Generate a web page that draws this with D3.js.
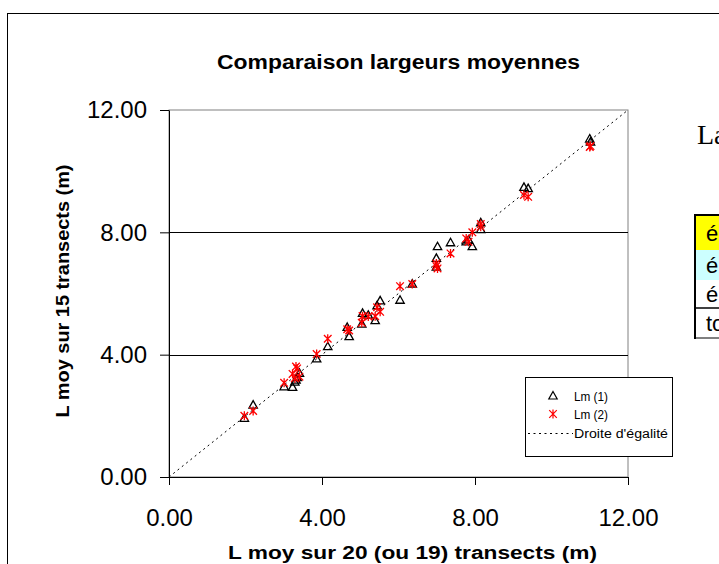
<!DOCTYPE html>
<html><head><meta charset="utf-8">
<script src="https://cdn.jsdelivr.net/npm/d3@7"></script>
<style>body{margin:0;background:#fff;} svg{display:block;} text{font-family:"Liberation Sans",Arial,sans-serif;}</style>
</head><body>
<svg id="c" width="719" height="564"></svg>
<script>
const xValues = [1.97,2.20,3.01,3.23,3.32,3.41,3.35,3.29,3.86,4.15,4.66,4.71,5.04,5.06,5.21,5.39,5.44,5.52,6.04,6.36,6.99,7.02,6.99,7.36,7.77,7.83,7.93,8.15,8.15,9.28,9.39,11.00,11.02];
const lm1 = [1.92,2.35,2.95,2.93,3.17,3.39,3.25,3.10,3.86,4.26,4.89,4.59,5.00,5.35,5.29,5.11,5.60,5.76,5.78,6.31,7.15,7.53,6.86,7.66,7.69,7.75,7.53,8.31,8.09,9.47,9.43,11.05,10.95];
const lm2 = [2.00,2.16,3.08,3.37,3.61,3.28,3.55,3.23,4.02,4.52,4.83,4.79,5.04,5.26,5.25,5.26,5.55,5.40,6.24,6.31,6.98,6.82,6.90,7.31,7.80,7.69,8.00,8.27,8.18,9.22,9.16,10.79,10.82];
const axisTicks = [0,4,8,12];
const seriesNames = ["Lm (1)","Lm (2)","Droite d'égalité"];
const titleText = "Comparaison largeurs moyennes";
const xTitle = "L moy sur 20 (ou 19) transects (m)";
const yTitle = "L moy sur 15 transects (m)";
const tableRows = [{t:"é",fill:"#ffff00"},{t:"é",fill:"#ccffff"},{t:"é",fill:"#ffffff"},{t:"to",fill:"#ffffff"}];

const svg = d3.select("#c");
const x = d3.scaleLinear().domain([0,12]).range([169,628]);
const y = d3.scaleLinear().domain([0,12]).range([477,110]);
const fmt = d3.format(".2f");

// right-side sheet content
svg.append("text").attr("x",697).attr("y",144).attr("font-family","Liberation Serif, Times New Roman, serif")
  .style("font-family","'Liberation Serif','Times New Roman',serif").attr("font-size",28).text("La");
const rowTops=[215,250,280,308], rowH=[35,30,28,30];
tableRows.forEach((r,i)=>{
  svg.append("rect").attr("x",695).attr("y",rowTops[i]).attr("width",30).attr("height",rowH[i]).attr("fill",r.fill);
  svg.append("text").attr("x",706).attr("y",rowTops[i]+rowH[i]/2+8).attr("font-size",22).text(r.t);
});
svg.append("line").attr("x1",695).attr("x2",719).attr("y1",215).attr("y2",215).attr("stroke","#000").attr("stroke-width",2);
svg.append("line").attr("x1",695).attr("x2",695).attr("y1",214).attr("y2",339).attr("stroke","#000").attr("stroke-width",2);
svg.append("line").attr("x1",695).attr("x2",719).attr("y1",308).attr("y2",308).attr("stroke","#000").attr("stroke-width",1.5);
svg.append("line").attr("x1",695).attr("x2",719).attr("y1",338).attr("y2",338).attr("stroke","#000").attr("stroke-width",1);

// chart outer border
svg.append("rect").attr("x",7.5).attr("y",13.5).attr("width",730).attr("height",570).attr("fill","none").attr("stroke","#000");

// title
svg.append("text").attr("x",398.5).attr("y",69).attr("text-anchor","middle").attr("font-weight","bold").attr("font-size",20)
  .attr("textLength",363).attr("lengthAdjust","spacingAndGlyphs").text(titleText);

// plot frame
svg.append("rect").attr("x",169).attr("y",110).attr("width",459).attr("height",367).attr("fill","none").attr("stroke","#808080");
// gridlines
svg.append("g").selectAll("line").data(axisTicks.filter(d=>d>0&&d<12)).join("line")
  .attr("x1",x(0)).attr("x2",x(12)).attr("y1",d=>Math.round(y(d))+0.5).attr("y2",d=>Math.round(y(d))+0.5).attr("stroke","#000");

// axes
const xa = svg.append("g").attr("transform",`translate(0,${y(0)})`)
  .call(d3.axisBottom(x).tickValues(axisTicks).tickFormat(fmt).tickSize(8).tickSizeOuter(0).tickPadding(24));
xa.select(".domain").attr("stroke","#000");
xa.selectAll("text").attr("font-size",24).attr("fill","#000").style("font-family","'Liberation Sans',Arial,sans-serif");
const ya = svg.append("g").attr("transform",`translate(${x(0)},0)`)
  .call(d3.axisLeft(y).tickValues(axisTicks).tickFormat(fmt).tickSize(9).tickSizeOuter(0).tickPadding(13));
ya.select(".domain").attr("stroke","#000");
ya.selectAll("text").attr("font-size",24).attr("fill","#000").style("font-family","'Liberation Sans',Arial,sans-serif");

// axis titles
svg.append("text").attr("x",412.5).attr("y",559).attr("text-anchor","middle").attr("font-weight","bold").attr("font-size",18)
  .attr("textLength",369).attr("lengthAdjust","spacingAndGlyphs").text(xTitle);
svg.append("text").attr("transform","translate(69,291) rotate(-90)").attr("text-anchor","middle").attr("font-weight","bold").attr("font-size",18)
  .attr("textLength",253).attr("lengthAdjust","spacingAndGlyphs").text(yTitle);

// equality line
svg.append("line").attr("x1",x(0)).attr("y1",y(0)).attr("x2",x(12)).attr("y2",y(12))
  .attr("stroke","#000").attr("stroke-width",1).attr("stroke-dasharray","2,3.5");

const tri = "M0,-4.5L4.2,3L-4.2,3Z";
const star = "M-3.8,-3.8L3.8,3.8M-3.8,3.8L3.8,-3.8M0,-4.5L0,4.5";
svg.append("g").selectAll("path").data(xValues.map((v,i)=>[v,lm1[i]])).join("path")
  .attr("transform",d=>`translate(${x(d[0])},${y(d[1])})`).attr("d",tri).attr("fill","none").attr("stroke","#000").attr("stroke-width",1.3);
svg.append("g").selectAll("path").data(xValues.map((v,i)=>[v,lm2[i]])).join("path")
  .attr("transform",d=>`translate(${x(d[0])},${y(d[1])})`).attr("d",star).attr("fill","none").attr("stroke","#ff0000").attr("stroke-width",1.3);

// legend
const lg = svg.append("g");
lg.append("rect").attr("x",525.5).attr("y",377.5).attr("width",147).attr("height",79).attr("fill","#fff").attr("stroke","#000");
lg.append("path").attr("transform","translate(553,396)").attr("d",tri).attr("fill","none").attr("stroke","#000").attr("stroke-width",1.2);
lg.append("path").attr("transform","translate(553,414)").attr("d",star).attr("fill","none").attr("stroke","#ff0000").attr("stroke-width",1.2);
lg.append("line").attr("x1",528).attr("x2",573).attr("y1",433.5).attr("y2",433.5).attr("stroke","#000").attr("stroke-dasharray","2,3.5");
const lgText=[[396,34],[414,34],[433,94]];
seriesNames.forEach((n,i)=>{
  lg.append("text").attr("x",574).attr("y",lgText[i][0]+4.5).attr("font-size",12.5)
    .attr("textLength",lgText[i][1]).attr("lengthAdjust","spacingAndGlyphs").text(n);
});
</script>
</body></html>
